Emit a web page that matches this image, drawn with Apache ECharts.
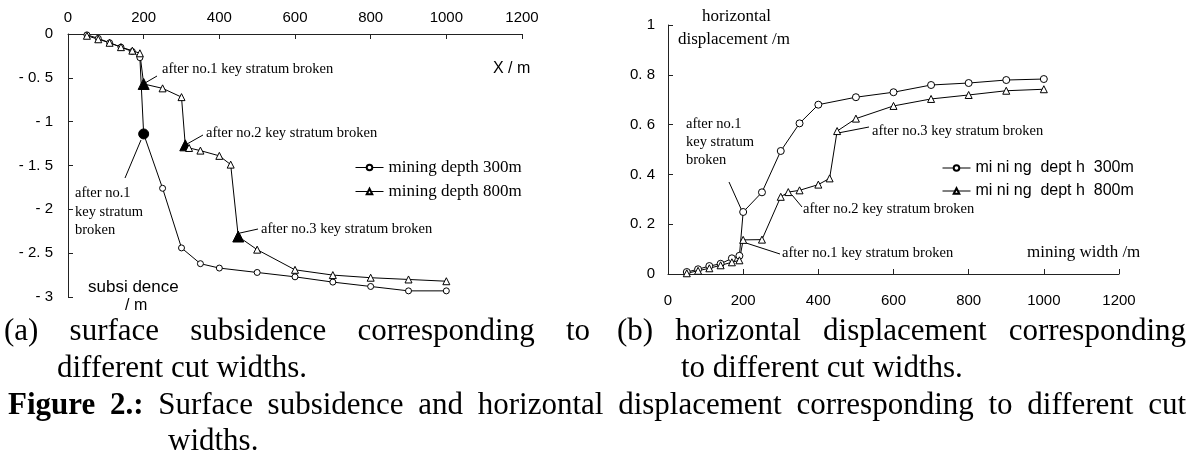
<!DOCTYPE html>
<html>
<head>
<meta charset="utf-8">
<script src="https://cdn.jsdelivr.net/npm/echarts@6/dist/echarts.min.js"></script>
<style>
  html, body { margin: 0; padding: 0; background: #fff; }
  #chart { width: 1197px; height: 457px; }
</style>
</head>
<body>
<div id="chart"></div>
<script>
// (a) surface subsidence
const subsX300 = [50, 80, 110, 140, 170, 190, 200, 250, 300, 350, 400, 500, 600, 700, 800, 900, 1000];
const subs300 = [-0.01, -0.05, -0.1, -0.15, -0.2, -0.27, -1.14, -1.76, -2.44, -2.62, -2.67, -2.72, -2.77, -2.83, -2.88, -2.93, -2.93];
const subsX800 = [50, 80, 110, 140, 170, 190, 200, 250, 300, 310, 320, 350, 400, 430, 450, 500, 600, 700, 800, 900, 1000];
const subs800 = [-0.02, -0.06, -0.1, -0.15, -0.19, -0.22, -0.57, -0.62, -0.72, -1.27, -1.3, -1.33, -1.39, -1.49, -2.31, -2.46, -2.69, -2.75, -2.78, -2.8, -2.82];
const subsKey300 = [200];
const subsKey800 = [200, 310, 450];

// (b) horizontal displacement
const dispX300 = [50, 80, 110, 140, 170, 190, 200, 250, 300, 350, 400, 500, 600, 700, 800, 900, 1000];
const disp300 = [0.008, 0.019, 0.032, 0.041, 0.063, 0.073, 0.249, 0.328, 0.494, 0.605, 0.68, 0.71, 0.73, 0.759, 0.767, 0.779, 0.783];
const dispX800 = [50, 80, 110, 140, 170, 190, 200, 250, 300, 320, 350, 400, 430, 450, 500, 600, 700, 800, 900, 1000];
const disp800 = [0.003, 0.013, 0.023, 0.035, 0.047, 0.055, 0.137, 0.138, 0.31, 0.329, 0.336, 0.359, 0.384, 0.574, 0.624, 0.675, 0.703, 0.719, 0.736, 0.742];

const legendA = ["mining depth 300m", "mining depth 800m"];
const legendB = ["mi ni ng  dept h  300m", "mi ni ng  dept h  800m"];

const SERIF = "Liberation Serif";
const SANS = "Liberation Sans";

function pts(xs, ys, keys, filledSymbol) {
  return xs.map(function (x, i) {
    if (keys && keys.indexOf(x) >= 0) {
      return { value: [x, ys[i]], symbol: filledSymbol, symbolSize: filledSymbol === "circle" ? 10 : 11, itemStyle: { color: "#000" } };
    }
    return [x, ys[i]];
  });
}

function lineSeries(name, xi, yi, data, symbol, size) {
  return {
    name: name,
    type: "line",
    xAxisIndex: xi,
    yAxisIndex: yi,
    data: data,
    symbol: symbol,
    symbolSize: size,
    showAllSymbol: true,
    itemStyle: { color: "#fff", borderColor: "#000", borderWidth: 1 },
    lineStyle: { color: "#000", width: 1 },
    color: "#000",
    z: 3
  };
}

function axisBase() {
  return {
    axisLine: { show: true, lineStyle: { color: "#222", width: 1 } },
    axisTick: { show: true, inside: true, length: 5, lineStyle: { color: "#222" } },
    splitLine: { show: false },
    axisLabel: { color: "#000", fontFamily: SANS, fontSize: 15, formatter: function (v) { return String(v); } }
  };
}

function txt(x, y, text, font, extra) {
  const st = Object.assign({ text: text, font: font, fill: "#000", verticalAlign: "middle" }, extra || {});
  return { type: "text", x: x, y: y, silent: true, style: st };
}
function seg(x1, y1, x2, y2) {
  return { type: "line", silent: true, shape: { x1: x1, y1: y1, x2: x2, y2: y2 }, style: { stroke: "#000", lineWidth: 1 } };
}

// spread words evenly between x0 and x1 (justified caption lines)
const measureCtx = document.createElement("canvas").getContext("2d");
function justify(words, x0, x1, y) {
  const widths = words.map(function (w) { measureCtx.font = w[1]; return measureCtx.measureText(w[0]).width; });
  const total = widths.reduce(function (a, b) { return a + b; }, 0);
  const gap = (x1 - x0 - total) / (words.length - 1);
  let x = x0;
  return words.map(function (w, i) {
    const el = txt(x, y, w[0], w[1]);
    x += widths[i] + gap;
    return el;
  });
}

const annoFont = "14.5px " + SERIF;
const capFont = "31px " + SERIF;
const capBold = "bold 31px " + SERIF;

const xA = Object.assign(axisBase(), {
  gridIndex: 0, type: "value", position: "top", min: 0, max: 1200, interval: 200
});
xA.axisLabel.margin = 9;
const yA = Object.assign(axisBase(), {
  gridIndex: 0, type: "value", min: -3, max: 0, interval: 0.5
});
yA.axisLabel.margin = 15;
yA.axisLabel.formatter = function (v) {
  if (v === 0) return "0";
  return "- " + String(Math.abs(v)).replace(".", ". ");
};
const xB = Object.assign(axisBase(), {
  gridIndex: 1, type: "value", position: "bottom", min: 0, max: 1200, interval: 200
});
xB.axisLabel.margin = 19;
const yB = Object.assign(axisBase(), {
  gridIndex: 1, type: "value", min: 0, max: 1, interval: 0.2
});
yB.axisLabel.margin = 13;
yB.axisLabel.formatter = function (v) { return String(+v.toFixed(1)).replace(".", ". "); };

const captionA = [["(a)", capFont], ["surface", capFont], ["subsidence", capFont], ["corresponding", capFont], ["to", capFont]];
const captionB = [["(b)", capFont], ["horizontal", capFont], ["displacement", capFont], ["corresponding", capFont]];
const captionFig = [["Figure", capBold], ["2.:", capBold]].concat(
  "Surface subsidence and horizontal displacement corresponding to different cut".split(" ").map(function (w) { return [w, capFont]; })
);

const option = {
  animation: false,
  backgroundColor: "#fff",
  grid: [
    { left: 68, top: 34, width: 454, height: 263 },
    { left: 668, top: 25, width: 451, height: 249 }
  ],
  xAxis: [xA, xB],
  yAxis: [yA, yB],
  legend: [
    {
      data: legendA, orient: "vertical", left: 350, top: 154, itemWidth: 28, itemHeight: 7, itemGap: 7,
      lineStyle: { width: 1 },
      textStyle: { fontFamily: SERIF, fontSize: 17, color: "#000" }, selectedMode: false
    },
    {
      data: legendB, orient: "vertical", left: 937, top: 155, itemWidth: 28, itemHeight: 7, itemGap: 7,
      lineStyle: { width: 1 },
      textStyle: { fontFamily: SANS, fontSize: 16, color: "#000" }, selectedMode: false
    }
  ],
  series: [
    lineSeries(legendA[0], 0, 0, pts(subsX300, subs300, subsKey300, "circle"), "circle", 6),
    lineSeries(legendA[1], 0, 0, pts(subsX800, subs800, subsKey800, "triangle"), "triangle", 7),
    lineSeries(legendB[0], 1, 1, pts(dispX300, disp300), "circle", 7),
    lineSeries(legendB[1], 1, 1, pts(dispX800, disp800), "triangle", 7)
  ],
  graphic: [
    // chart (a) labels
    txt(493, 69, "X / m", "16px " + SANS),
    txt(88, 287, "subsi dence", "17px " + SANS),
    txt(125, 306, "/ m", "16px " + SANS),
    txt(162, 69, "after no.1 key stratum broken", annoFont),
    seg(145, 83, 157, 76),
    txt(206, 133, "after no.2 key stratum broken", annoFont),
    seg(187, 144, 203, 135),
    txt(75, 184, "after no.1\nkey stratum\nbroken", annoFont, { verticalAlign: "top", lineHeight: 18.5 }),
    seg(125, 178, 141, 140),
    txt(261, 229, "after no.3 key stratum broken", annoFont),
    seg(240, 233, 258, 229),
    // chart (b) labels
    txt(702, 17, "horizontal", "17px " + SERIF),
    txt(678, 40, "displacement /m", "17px " + SERIF),
    txt(686, 115, "after no.1\nkey stratum\nbroken", annoFont, { verticalAlign: "top", lineHeight: 18 }),
    seg(729, 182, 742, 211),
    txt(872, 131, "after no.3 key stratum broken", annoFont),
    seg(838, 133, 869, 127),
    txt(803, 209, "after no.2 key stratum broken", annoFont),
    seg(792, 195, 802, 207),
    txt(782, 253, "after no.1 key stratum broken", annoFont),
    seg(743, 242, 780, 254),
    txt(1027, 253, "mining width /m", "17px " + SERIF),
    // captions
    txt(57, 369, "different cut widths.", capFont),
    txt(681, 369, "to different cut widths.", capFont),
    txt(168, 442, "widths.", capFont)
  ].concat(
    justify(captionA, 4, 590, 332),
    justify(captionB, 617, 1186, 332),
    justify(captionFig, 8, 1186, 406)
  )
};

const myChart = echarts.init(document.getElementById("chart"));
myChart.setOption(option);
</script>
</body>
</html>
